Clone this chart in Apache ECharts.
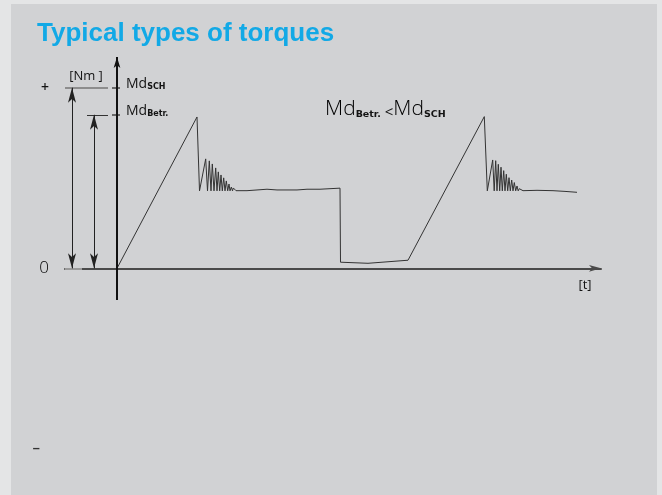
<!DOCTYPE html>
<html>
<head>
<meta charset="utf-8">
<script src="https://cdn.jsdelivr.net/npm/echarts@6/dist/echarts.min.js"></script>
<style>
  html, body { margin: 0; padding: 0; background: #e4e5e6; }
  #panel { position: absolute; left: 11px; top: 4px; width: 646px; height: 491px; background: #d1d2d4; }
  #chart { position: absolute; left: 0; top: 0; width: 662px; height: 495px; }
</style>
</head>
<body>
<div id="panel"></div>
<div id="chart"></div>
<script>
// Torque curve: start-up ramp to break-away peak, decaying ringing, running level,
// idle dip, then a second start-up cycle. Time in arbitrary units, torque in % of Md_SCH.
const torqueTime = [
  0, 80, 82.5,
  88.7, 90.5, 92.3, 94, 95.3, 97, 98.7, 100, 101.3, 102.7, 104, 105.3, 106.7, 108, 109.3, 110.7, 112, 113, 114.3, 115.5, 116.3,
  119, 130, 140, 150, 160, 170, 180, 190, 203, 223,
  223.5, 251, 291,
  367.3, 370.3,
  375.7, 377.2, 378.7, 380, 381.3, 382.7, 384, 385.3, 386.7, 388, 389.3, 390.7, 392, 393.3, 394.7, 396, 397.3, 398.7, 400, 401.2, 402.3,
  406, 420, 436, 448, 460
];
const torqueValue = [
  0, 83.8, 42.9,
  60.6, 42.9, 59.5, 42.9, 57.8, 42.9, 55.6, 42.9, 53.4, 42.9, 51.7, 42.9, 50.1, 42.9, 48.4, 42.9, 46.7, 42.9, 45.0, 42.9, 44.5,
  43.0, 43.0, 43.4, 43.8, 43.4, 43.4, 43.4, 43.8, 43.8, 44.4,
  3.4, 2.8, 4.5,
  84.0, 42.9,
  60.0, 42.9, 59.6, 42.9, 57.6, 42.9, 56.0, 42.9, 54.1, 42.9, 52.1, 42.9, 50.2, 42.9, 48.9, 42.9, 47.5, 42.9, 45.6, 42.9, 44.1,
  43.0, 43.2, 43.0, 42.6, 42.1
];

// Reference torque levels
const levelSch = 100;   // Md_SCH
const levelBetr = 85;   // Md_Betr.

// Torque axis ticks and their labels
const torqueTicks = [-100, 0, 100];
const torqueTickLabels = ['–', '0', '+'];

const LIGHT = "'Open Sans', 'DejaVu Sans', sans-serif";
const INK = '#141414';

const richText = {
  md:   { fontFamily: LIGHT, fontWeight: 400, fontSize: 14, color: INK },
  sub:  { fontFamily: 'DejaVu Sans', fontWeight: 'bold', fontSize: 8, color: INK, verticalAlign: 'bottom' },
  big:  { fontFamily: LIGHT, fontWeight: 300, fontSize: 21, color: '#000' },
  bsub: { fontFamily: 'DejaVu Sans', fontWeight: 'bold', fontSize: 9.5, color: INK, verticalAlign: 'bottom' },
  lt:   { fontFamily: LIGHT, fontWeight: 400, fontSize: 15, color: INK, verticalAlign: 'bottom' },
  unit: { fontFamily: LIGHT, fontWeight: 400, fontSize: 13, color: INK }
};

function textMark(coord, text, position) {
  return {
    coord: coord,
    symbol: 'circle',
    symbolSize: 0,
    label: { show: true, position: position, distance: 0, formatter: text, rich: richText }
  };
}

function segment(from, to, color, width, symbols, sizes) {
  return [
    { coord: from, symbol: symbols[0], symbolSize: sizes[0], lineStyle: { color: color, width: width, type: 'solid' } },
    { coord: to, symbol: symbols[1], symbolSize: sizes[1] }
  ];
}

const chart = echarts.init(document.getElementById('chart'), null, { renderer: 'canvas' });

chart.setOption({
  animation: false,
  backgroundColor: 'transparent',
  title: {
    text: 'Typical types of torques',
    left: 37,
    top: 21,
    padding: 0,
    textStyle: {
      fontFamily: "'Liberation Sans', Arial, sans-serif",
      fontWeight: 'bold',
      fontSize: 26,
      color: '#12a9e6'
    }
  },
  grid: { left: 65, right: 61, top: 57, bottom: 46 },
  xAxis: {
    type: 'value',
    min: -52,
    max: 484,
    axisLine: {
      show: true,
      onZero: true,
      symbol: ['none', 'arrow'],
      symbolSize: [5, 12],
      lineStyle: { color: '#4a4a4a', width: 2 }
    },
    axisTick: { show: false },
    axisLabel: { show: false },
    splitLine: { show: false }
  },
  yAxis: {
    type: 'value',
    min: -100,
    max: 117,
    interval: 100,
    axisLine: { show: false },
    axisTick: { show: false },
    splitLine: { show: false },
    axisLabel: {
      margin: 16,
      formatter: function (v) {
        const i = torqueTicks.indexOf(v);
        if (i < 0) return '';
        if (v < 0) return '{neg|' + torqueTickLabels[i] + '}';
        if (v > 0) return '{pos|' + torqueTickLabels[i] + '}';
        return '{lab|' + torqueTickLabels[i] + '}';
      },
      rich: {
        lab: { fontFamily: LIGHT, fontWeight: 300, fontSize: 17, color: '#000' },
        pos: { fontFamily: LIGHT, fontWeight: 600, fontSize: 14, color: INK },
        neg: { fontFamily: LIGHT, fontWeight: 600, fontSize: 15, color: '#333', padding: [0, 9, 0, 0] }
      }
    }
  },
  series: [
    {
      name: 'torque',
      type: 'line',
      data: torqueTime.map((t, i) => [t, torqueValue[i]]),
      showSymbol: false,
      symbol: 'none',
      silent: true,
      z: 4,
      lineStyle: { color: '#333333', width: 1 }
    },
    {
      name: 'annotations',
      type: 'line',
      data: [],
      silent: true,
      clip: false,
      z: 5,
      markLine: {
        silent: true,
        animation: false,
        label: { show: false },
        emphasis: { disabled: true },
        data: [
          // light start of the zero line
          segment([-52, 0], [-35, 0], '#9a9a9a', 2, ['none', 'none'], [0, 0]),
          // Md_SCH level line and tick on the torque axis
          segment([-52, levelSch], [-9, levelSch], '#8d8d8d', 2, ['none', 'none'], [0, 0]),
          segment([-5, levelSch], [3, levelSch], '#444444', 1.5, ['none', 'none'], [0, 0]),
          // Md_Betr. level line and tick
          segment([-30, levelBetr], [-9, levelBetr], '#333333', 1, ['none', 'none'], [0, 0]),
          segment([-5, levelBetr], [3, levelBetr], '#444444', 1.5, ['none', 'none'], [0, 0]),
          // dimension arrows for both levels
          segment([-45, 0], [-45, levelSch], '#222222', 1, ['arrow', 'arrow'], [[6, 15], [6, 15]]),
          segment([-23, 0], [-23, levelBetr], '#222222', 1, ['arrow', 'arrow'], [[6, 15], [6, 15]]),
          // torque axis
          segment([0, -17.5], [0, 117], '#111111', 2, ['none', 'arrow'], [0, [5, 11]])
        ]
      },
      markPoint: {
        silent: true,
        animation: false,
        data: [
          textMark([-31, 106.5], '{unit|[Nm ]}', 'inside'),
          textMark([9, 102], '{md|Md}{sub|SCH}', 'right'),
          textMark([9, 87], '{md|Md}{sub|Betr.}', 'right'),
          textMark([208, 88], '{big|Md}{bsub|Betr.}{lt| <}{big|Md}{bsub|SCH}', 'right'),
          textMark([468, -9.5], '{unit|[t]}', 'inside')
        ]
      }
    }
  ]
});
</script>
</body>
</html>
